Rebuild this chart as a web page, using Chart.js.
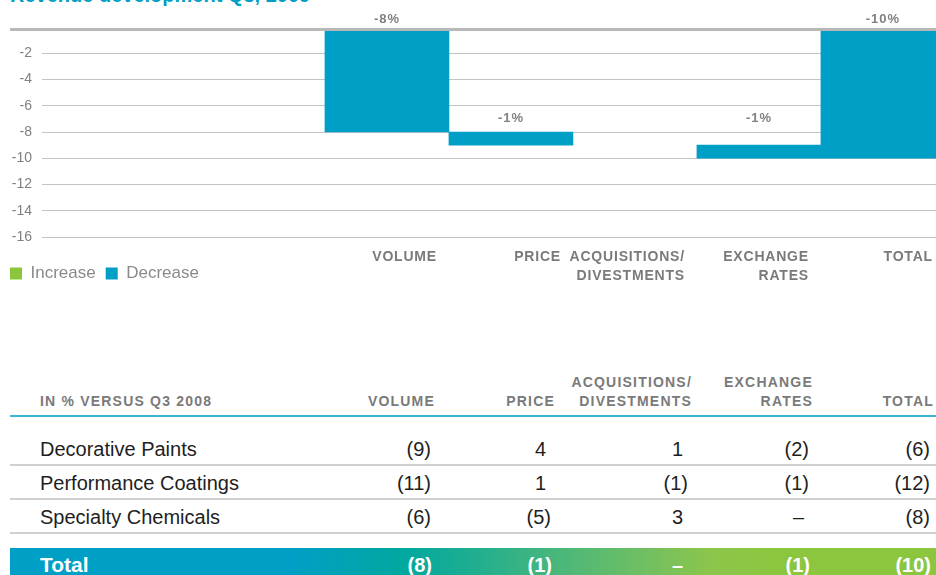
<!DOCTYPE html>
<html>
<head>
<meta charset="utf-8">
<script src="https://cdn.jsdelivr.net/npm/chart.js@4.4.1/dist/chart.umd.min.js"></script>
<style>
    html, body { margin: 0; padding: 0; background: #fff; }
    #page { position: relative; width: 936px; height: 575px; overflow: hidden; font-family: "Liberation Sans", Arial, Helvetica, sans-serif; }
    .title { position: absolute; left: 10px; top: -15px; font-size: 20px; line-height: 20px; font-weight: bold; color: #009fc6; white-space: nowrap; }
    #chartBox { position: absolute; left: 0; top: 0; width: 936px; height: 292px; }
    table { position: absolute; left: 10px; width: 926px; border-collapse: collapse; table-layout: fixed; }
    #breakdown { top: 373px; }
    #breakdown th { font-size: 14px; line-height: 19px; font-weight: bold; letter-spacing: 1.2px; color: #7a7a7a; text-align: right; vertical-align: bottom; padding: 0 0 4px 0; border-bottom: 2px solid #3fb5d5; white-space: pre; }
    #breakdown th:first-child { text-align: left; padding-left: 30px; }
    #breakdown td { font-size: 20px; line-height: 24px; color: #1e1e1e; text-align: right; padding: 5px 0 3px 0; border-bottom: 2px solid #d0d0d0; }
    #breakdown tr.first td { padding-top: 20px; }
    #breakdown td:first-child { text-align: left; padding-left: 30px; }
    #totals { top: 548px; background: linear-gradient(90deg, #009fc6 0px, #009fc6 280px, #00a8a0 390px, #1eae91 460px, #4bb77a 550px, #6ebf63 630px, #8cc54b 700px, #8cc63f 760px, #8cc63f 926px); }
    #totals td { font-size: 20px; line-height: 24px; font-weight: bold; color: #fff; text-align: right; padding: 5px 0 10px 0; }
    #totals td:first-child { text-align: left; padding-left: 30px; font-size: 21px; }
</style>
</head>
<body>
<div id="page">
    <div class="title">Revenue development Q3, 2009</div>
    <div id="chartBox"><canvas id="chart" width="936" height="292"></canvas></div>
    <table id="breakdown"></table>
    <table id="totals"></table>
</div>
<script>
// waterfall data (in % versus Q3 2008)
const categories = [["VOLUME"], ["PRICE"], ["ACQUISITIONS/", "DIVESTMENTS"], ["EXCHANGE", "RATES"], ["TOTAL"]];
const changes = [-8, -1, 0, -1];
const totalChange = -10;

const yMin = -16;
const yMax = -0.3;
const yStep = 2;

// table below the chart
const tableHeaders = ["IN % VERSUS Q3 2008", "VOLUME", "PRICE", "ACQUISITIONS/\nDIVESTMENTS", "EXCHANGE\nRATES", "TOTAL"];
const segments = ["Decorative Paints", "Performance Coatings", "Specialty Chemicals"];
const decorativePaints = ["(9)", "4", "1", "(2)", "(6)"];
const performanceCoatings = ["(11)", "1", "(1)", "(1)", "(12)"];
const specialtyChemicals = ["(6)", "(5)", "3", "–", "(8)"];
const totalRow = ["(8)", "(1)", "–", "(1)", "(10)"];

const BLUE = "#009fc6";
const GREEN = "#8cc63f";
const GREY = "#808080";
const FONT = '"Liberation Sans", Arial, Helvetica, sans-serif';

// build floating bars from the running total
const increaseBars = [];
const decreaseBars = [];
let level = 0;
changes.forEach((c, i) => {
    const bar = { x: i + 1, y: [level, level + c], v: c };
    if (c > 0) increaseBars.push(bar);
    if (c < 0) decreaseBars.push(bar);
    level += c;
});
(totalChange < 0 ? decreaseBars : increaseBars).push({ x: categories.length, y: [0, totalChange], v: totalChange });

const topRule = {
    id: "topRule",
    beforeDatasetsDraw(chart) {
        const { ctx, chartArea } = chart;
        ctx.save();
        ctx.strokeStyle = "#b8b8b8";
        ctx.lineWidth = 3;
        ctx.beginPath();
        ctx.moveTo(10, chartArea.top - 1.5);
        ctx.lineTo(chart.width, chartArea.top - 1.5);
        ctx.stroke();
        ctx.restore();
    }
};

// x labels: letter spacing, and let the two-line labels run past the short axis box
const trackedLabels = {
    id: "trackedLabels",
    beforeDraw(chart) {
        const s = chart.scales.x;
        if (s._tracked)
            return;
        const draw = s.drawLabels.bind(s);
        s.drawLabels = (area) => {
            const bottom = s.bottom;
            s.bottom = chart.height;
            chart.ctx.save();
            chart.ctx.letterSpacing = "0.8px";
            draw(area);
            chart.ctx.restore();
            s.bottom = bottom;
        };
        s._tracked = true;
    }
};

const valueLabels = {
    id: "valueLabels",
    afterDatasetsDraw(chart) {
        const { ctx, chartArea } = chart;
        const y = chart.scales.y;
        ctx.save();
        ctx.font = "bold 13px " + FONT;
        ctx.letterSpacing = "1px";
        ctx.fillStyle = GREY;
        ctx.textAlign = "center";
        ctx.textBaseline = "middle";
        chart.data.datasets.forEach((ds, di) => {
            chart.getDatasetMeta(di).data.forEach((bar, i) => {
                const d = ds.data[i];
                const top = Math.max(d.y[0], d.y[1]);
                const row = Math.ceil(top / yStep) * yStep;
                const py = Math.max(chartArea.top - 12, y.getPixelForValue(row) - 14);
                ctx.fillText(d.v + "%", bar.x, py);
            });
        });
        ctx.restore();
    }
};

new Chart(document.getElementById("chart"), {
    type: "bar",
    data: {
        datasets: [
            { label: "Increase", data: increaseBars, backgroundColor: GREEN, borderWidth: 0, grouped: false, barPercentage: 1, categoryPercentage: 1 },
            { label: "Decrease", data: decreaseBars, backgroundColor: BLUE, borderWidth: 0, grouped: false, barPercentage: 1, categoryPercentage: 1 }
        ]
    },
    options: {
        responsive: false,
        animation: false,
        layout: { padding: { top: 31, left: 0, right: 0, bottom: 0 } },
        plugins: {
            legend: {
                position: "bottom",
                align: "start",
                labels: {
                    boxWidth: 12,
                    boxHeight: 12,
                    padding: 10,
                    color: "#8a8a8a",
                    font: { family: FONT, size: 17 }
                }
            },
            tooltip: { enabled: false }
        },
        scales: {
            x: {
                type: "linear",
                offset: false,
                min: -1.782,
                max: 5.428,
                afterFit: (scale) => { scale.height = 18; },
                grid: { display: false, drawTicks: false, offset: false },
                border: { display: false },
                ticks: {
                    stepSize: 1,
                    includeBounds: false,
                    autoSkip: false,
                    maxRotation: 0,
                    minRotation: 0,
                    align: "end",
                    labelOffset: 50,
                    padding: 10,
                    color: "#7a7a7a",
                    font: { family: FONT, size: 14, weight: "bold", lineHeight: 1.38 },
                    callback: (value) => {
                        const i = Math.round(value) - 1;
                        return (Number.isInteger(value) && i >= 0 && i < categories.length) ? categories[i] : "";
                    }
                }
            },
            y: {
                min: yMin,
                max: yMax,
                afterFit: (scale) => { scale.width = 42; },
                grid: { color: "#c4c4c4", lineWidth: 1, drawTicks: false },
                border: { display: false },
                ticks: {
                    stepSize: yStep,
                    includeBounds: false,
                    padding: 10,
                    color: GREY,
                    font: { family: FONT, size: 14 }
                }
            }
        }
    },
    plugins: [topRule, trackedLabels, valueLabels]
});

// table
const colWidths = [320, 105, 120, 137, 121, 123];

function addCols(table) {
    const cg = document.createElement("colgroup");
    colWidths.forEach(w => {
        const c = document.createElement("col");
        c.style.width = w + "px";
        cg.appendChild(c);
    });
    table.appendChild(cg);
}

function valuePad(v, col, paren, plain) {
    const extra = col === colWidths.length - 1 ? 2 : 0;
    return (v.startsWith("(") ? paren : plain) + extra;
}

const breakdown = document.getElementById("breakdown");
addCols(breakdown);
const head = document.createElement("tr");
tableHeaders.forEach((h, i) => {
    const th = document.createElement("th");
    th.textContent = h;
    if (i === tableHeaders.length - 1)
        th.style.paddingRight = "2px";
    head.appendChild(th);
});
breakdown.appendChild(head);

[decorativePaints, performanceCoatings, specialtyChemicals].forEach((vals, r) => {
    const tr = document.createElement("tr");
    if (r === 0)
        tr.className = "first";
    const name = document.createElement("td");
    name.textContent = segments[r];
    tr.appendChild(name);
    vals.forEach((v, i) => {
        const td = document.createElement("td");
        td.textContent = v;
        td.style.paddingRight = valuePad(v, i + 1, 4, 9) + "px";
        tr.appendChild(td);
    });
    breakdown.appendChild(tr);
});

const totals = document.getElementById("totals");
addCols(totals);
const tr = document.createElement("tr");
const name = document.createElement("td");
name.textContent = "Total";
tr.appendChild(name);
totalRow.forEach((v, i) => {
    const td = document.createElement("td");
    td.textContent = v;
    td.style.paddingRight = valuePad(v, i + 1, 3, 9) + "px";
    tr.appendChild(td);
});
totals.appendChild(tr);
</script>
</body>
</html>
